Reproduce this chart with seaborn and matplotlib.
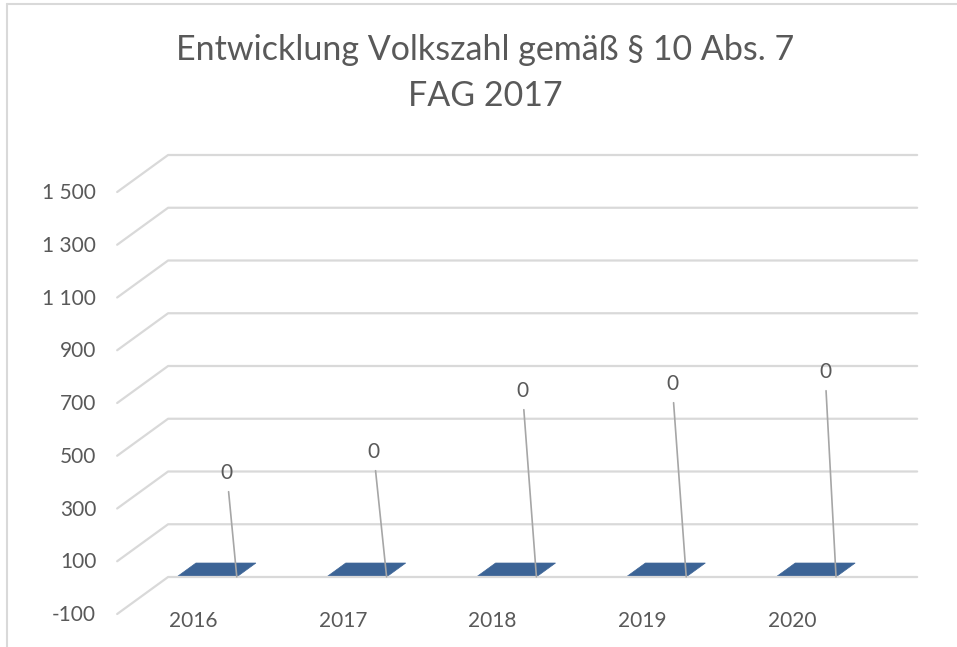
import numpy as np
import pandas as pd
import matplotlib
matplotlib.use("Agg")
import matplotlib.pyplot as plt
from matplotlib.patches import Polygon
from matplotlib.lines import Line2D
import seaborn as sns

# ---- data ----
years = ["2016", "2017", "2018", "2019", "2020"]
values = [0, 0, 0, 0, 0]
y_ticks = [-100, 100, 300, 500, 700, 900, 1100, 1300, 1500]
title = "Entwicklung Volkszahl gemäß § 10 Abs. 7\nFAG 2017"

# ---- style ----
sns.set_theme(style="white")
plt.rcParams["font.family"] = ["Lato", "DejaVu Sans"]
TXT = "#595959"
GRID = "#d9d9d9"
BAR = "#3C6496"
LEADER = "#a6a6a6"

# oblique (pseudo-3D) depth offset, in data units (category, value)
DX, DV = -0.34, -140.3
def proj(x, v, t):
    return x + t * DX, v + t * DV

fig = plt.figure(figsize=(9.57, 6.47), dpi=100)
ax = fig.add_axes([0, 0, 1, 1])
ax.set_xlim(-1.622, 4.766)
ax.set_ylim(-365.4, 2087.7)
ax.axis("off")

n = len(years)
x0, x1 = -0.5, n - 0.5

# gridlines: side-wall diagonal + back wall line, via seaborn
rows = []
for v in y_ticks:
    for k, (x, t) in enumerate([(x0, 1.0), (x0, 0.0), (x1, 0.0)]):
        px, pv = proj(x, v, t)
        rows.append({"x": px, "y": pv, "tick": v, "order": k})
grid_df = pd.DataFrame(rows)
sns.lineplot(data=grid_df, x="x", y="y", units="tick", estimator=None,
             sort=False, color=GRID, lw=1.6, ax=ax, legend=False)

# y tick labels at front of side wall
for v in y_ticks:
    px, pv = proj(x0, v, 1.0)
    ax.annotate(f"{v:,}".replace(",", " "), (px, pv), xytext=(-21, -1),
                textcoords="offset pixels", ha="right", va="center",
                fontsize=15, color=TXT)

# category labels
for i, yr in enumerate(years):
    px, pv = proj(i, y_ticks[0], 1.0)
    ax.annotate(yr, (px, pv), xytext=(1, -7), textcoords="offset pixels",
                ha="center", va="center", fontsize=15, color=TXT)

# bars (pseudo-3D columns starting at 0)
half_w = 0.2
t_back, t_front = 0.335, 0.71
label_offsets = [(-10, 104), (-13, 125), (-14, 186), (-14, 193), (-11, 205)]
for i, val in enumerate(values):
    xl, xr = i - half_w, i + half_w
    # front face
    front = [proj(xl, 0, t_front), proj(xr, 0, t_front),
             proj(xr, val, t_front), proj(xl, val, t_front)]
    ax.add_patch(Polygon(front, closed=True, fc=BAR, ec="none"))
    # top face
    top = [proj(xl, val, t_front), proj(xr, val, t_front),
           proj(xr, val, t_back), proj(xl, val, t_back)]
    ax.add_patch(Polygon(top, closed=True, fc=BAR, ec=BAR, lw=0.5))
    # data label with leader line
    anchor = proj(xr, val, t_front)
    ax.annotate(f"{val}", anchor, xytext=label_offsets[i],
                textcoords="offset pixels", ha="center", va="center",
                fontsize=15, color=TXT,
                arrowprops=dict(arrowstyle="-", color=LEADER, lw=1.2,
                                shrinkA=4, shrinkB=0))

# title
fig.text(485 / 957, 1 - 73 / 647, title, ha="center", va="center",
         fontsize=24.5, color=TXT, linespacing=1.5)

# chart-area border (left and top)
fig.add_artist(Line2D([7 / 957, 7 / 957], [0, 1 - 4 / 647],
                      transform=fig.transFigure, color=GRID, lw=1.5))
fig.add_artist(Line2D([7 / 957, 1], [1 - 4 / 647, 1 - 4 / 647],
                      transform=fig.transFigure, color=GRID, lw=1.5))

fig.savefig("out.png", dpi=100, facecolor="white")
